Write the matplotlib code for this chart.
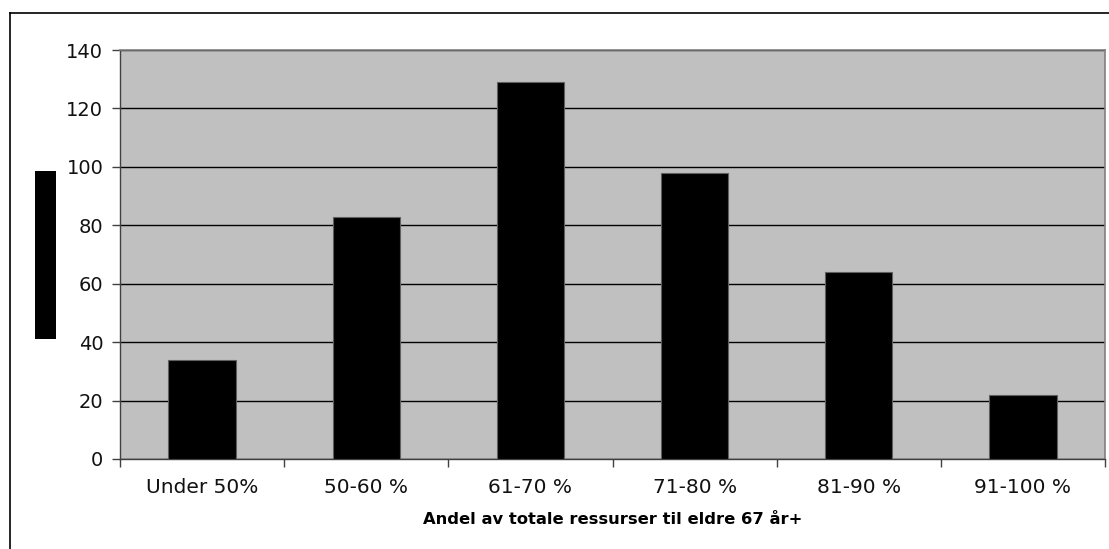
import matplotlib
matplotlib.use("Agg")
import matplotlib.pyplot as plt
from matplotlib.patches import Rectangle
from matplotlib.lines import Line2D

categories = ["Under 50%", "50-60 %", "61-70 %", "71-80 %", "81-90 %", "91-100 %"]
values = [34, 83, 129, 98, 64, 22]
yticks = [0, 20, 40, 60, 80, 100, 120, 140]
xlabel = "Andel av totale ressurser til eldre 67 år+"

W, H = 1109, 549
fig = plt.figure(figsize=(W / 100, H / 100), dpi=100)
fig.patch.set_facecolor("white")

left, right, top, bottom = 120, 1105, 50, 459
ax = fig.add_axes([left / W, 1 - bottom / H, (right - left) / W, (bottom - top) / H])
ax.set_facecolor("#C0C0C0")

x = list(range(len(categories)))
ax.bar(x, values, width=0.41, color="black", edgecolor="#606060", linewidth=0.8, zorder=3)
ax.set_xlim(-0.5, len(categories) - 0.5)
ax.set_ylim(0, 140)
ax.set_yticks(yticks)
ax.set_yticklabels([str(t) for t in yticks], fontsize=14, family="DejaVu Sans", color="#111111")
ax.yaxis.grid(True, color="black", linewidth=1.0, zorder=1)
ax.set_axisbelow(True)

ax.set_xticks(x)
ax.set_xticklabels(categories, fontsize=14.5, family="DejaVu Sans", color="#111111")
ax.tick_params(axis="x", length=0, pad=14)
ax.tick_params(axis="y", length=6, width=1, color="#404040", pad=6, direction="out")
ax.set_xticks([i - 0.5 for i in range(len(categories) + 1)], minor=True)
ax.tick_params(axis="x", which="minor", length=6, width=1, color="#404040")

for s in ["top", "right"]:
    ax.spines[s].set_color("#808080")
    ax.spines[s].set_linewidth(1.2)
for s in ["left", "bottom"]:
    ax.spines[s].set_color("#404040")
    ax.spines[s].set_linewidth(1.0)

fig.text((left + right) / 2 / W, 1 - 520 / H, xlabel, ha="center", va="center",
         fontsize=11.8, fontweight="bold", family="DejaVu Sans")

# outer frame (top and left visible)
fig.add_artist(Line2D([10 / W, 1.0], [1 - 13 / H, 1 - 13 / H], color="black", linewidth=1.2))
fig.add_artist(Line2D([10 / W, 10 / W], [1 - 13 / H, 0], color="black", linewidth=1.2))
# black block on the left (y-axis label placeholder)
fig.add_artist(Rectangle((35 / W, 1 - 339 / H), 21 / W, 168 / H, transform=fig.transFigure,
                         facecolor="black", edgecolor="none"))

fig.savefig("out.png", dpi=100)
